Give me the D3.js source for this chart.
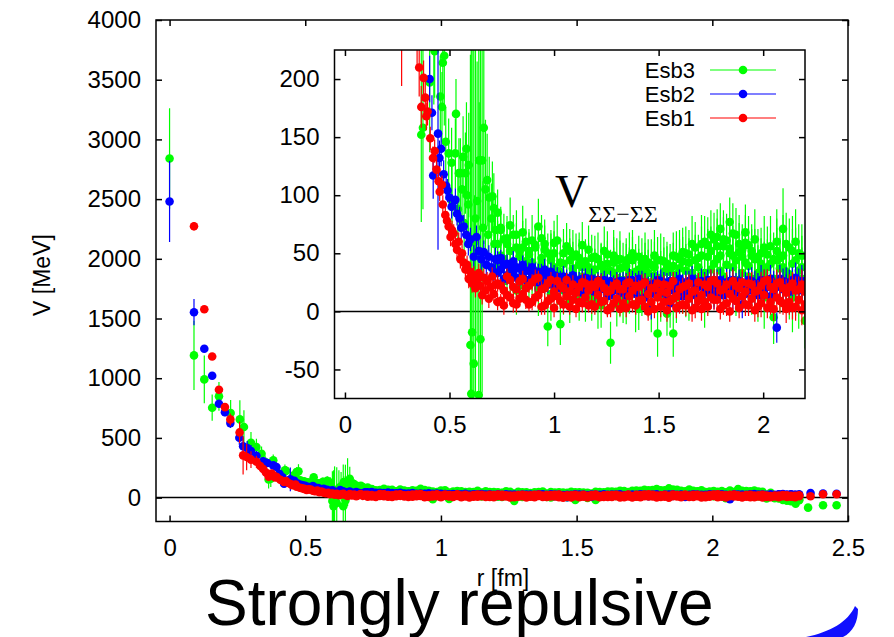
<!DOCTYPE html>
<html>
<head>
<meta charset="utf-8">
<script src="https://cdn.jsdelivr.net/npm/d3@7"></script>
<style>
  body { margin: 0; background: #fff; }
  svg { display: block; }
  text { font-family: "Liberation Sans", Arial, Helvetica, sans-serif; fill: #000; }
  .serif { font-family: "Liberation Serif", "Times New Roman", serif; }
</style>
</head>
<body>
<div id="chart"></div>
<script>
// ---- data ----
// short range points, [r (fm), V (MeV), error]
const esb1_near = [
  [0.09, 2273, 35], [0.128, 1578, 15], [0.157, 1182, 20], [0.182, 904, 30], [0.204, 758, 30],
  [0.224, 655, 50], [0.258, 546, 90], [0.271, 354, 160], [0.284, 340, 110], [0.3, 318, 70],
  [0.32, 300, 50], [0.334, 265, 40], [0.345, 240, 30], [0.355, 210, 25], [0.365, 176, 18],
  [0.376, 201, 15], [0.384, 184, 15], [0.389, 168, 12], [0.395, 172, 12], [0.408, 149, 10],
  [0.421, 132, 10], [0.429, 138, 10], [0.438, 122, 10], [0.448, 112, 10], [0.453, 103, 8],
  [0.464, 109, 8], [0.468, 92, 8], [0.48, 83, 8], [0.488, 78, 8], [0.496, 73, 8],
  [0.505, 64, 8], [0.512, 70, 8], [0.52, 67, 8], [0.528, 58, 8], [0.536, 53, 8],
  [0.544, 60, 8], [0.552, 45, 8], [0.56, 50, 8], [0.568, 42, 8], [0.576, 36, 8],
  [0.584, 40, 8], [0.592, 28, 8], [0.6, 34, 8], [0.608, 24, 8], [0.616, 31, 8],
  [0.624, 20, 8], [0.632, 27, 8], [0.64, 33, 8], [0.648, 22, 8], [0.656, 14, 8],
  [0.664, 29, 8], [0.672, 18, 8], [0.68, 26, 8], [0.688, 11, 8], [0.696, 21, 8],
  [0.704, 30, 8], [0.712, 15, 8], [0.72, 23, 8]
];
const esb2_near = [
  [0, 2480, 340], [0.09, 1553, 110], [0.128, 1247, 30], [0.157, 1021, 25], [0.182, 786, 30],
  [0.204, 716, 35], [0.224, 624, 40], [0.257, 502, 60], [0.271, 430, 70], [0.286, 415, 60],
  [0.3, 390, 50], [0.32, 350, 40], [0.345, 305, 35], [0.36, 290, 30], [0.382, 270, 25],
  [0.394, 256, 25], [0.405, 200, 20], [0.416, 171, 15], [0.422, 117, 20], [0.445, 153, 100],
  [0.452, 132, 15], [0.46, 140, 15], [0.472, 118, 12], [0.484, 108, 12], [0.491, 104, 10],
  [0.5, 98, 10], [0.51, 90, 10], [0.528, 96, 10], [0.536, 84, 10], [0.548, 80, 10],
  [0.556, 72, 10], [0.568, 73, 10], [0.58, 66, 10], [0.59, 58, 10], [0.6, 62, 10],
  [0.616, 47, 10], [0.629, 64, 10], [0.64, 52, 10], [0.652, 45, 10], [0.664, 51, 10],
  [0.676, 40, 10], [0.688, 47, 10], [0.7, 38, 10], [0.712, 34, 10], [0.72, 45, 10]
];
const esb3_near = [
  [0, 2840, 420], [0.09, 1191, 290], [0.128, 990, 200], [0.157, 753, 110], [0.182, 848, 120],
  [0.225, 708, 110], [0.259, 655, 160], [0.274, 591, 140], [0.3, 460, 90], [0.32, 423, 70],
  [0.339, 368, 60], [0.352, 300, 50], [0.365, 152, 75], [0.373, 158, 70], [0.382, 312, 50],
  [0.405, 197, 60], [0.425, 228, 50], [0.429, 224, 40], [0.456, 185, 35], [0.464, 176, 30],
  [0.468, 214, 40], [0.475, 220, 60], [0.482, 146, 30], [0.496, 136, 30], [0.51, 128, 30],
  [0.512, 95, 30], [0.528, 136, 30], [0.531, 170, 30], [0.54, 88, 30], [0.545, 119, 30],
  [0.552, 119, 30], [0.56, 105, 30], [0.565, 133, 35], [0.57, 76, 30], [0.576, 119, 35],
  [0.581, 140, 40], [0.584, 100, 40], [0.59, 92, 35], [0.592, 126, 45], [0.6, -29, 250],
  [0.604, -71, 300], [0.608, -18, 280], [0.616, -45, 300], [0.62, 60, 40], [0.624, 80, 150],
  [0.632, 95, 120], [0.64, -72, 350], [0.642, 130, 50], [0.648, -24, 300], [0.656, 130, 200],
  [0.66, 72, 40], [0.664, 158, 100], [0.672, 105, 60], [0.68, 113, 40], [0.685, 66, 30],
  [0.69, 98, 35], [0.7, 80, 30], [0.705, 99, 30], [0.712, 89, 30], [0.715, 58, 28],
  [0.72, 70, 28]
];

// medium / long range: shared r grid, several measurements per r
const r_band = [
  0.73, 0.745, 0.76, 0.775, 0.79, 0.805, 0.82, 0.835, 0.85, 0.865,
  0.88, 0.895, 0.91, 0.925, 0.94, 0.955, 0.97, 0.985, 1.0, 1.015,
  1.03, 1.045, 1.06, 1.075, 1.09, 1.105, 1.12, 1.135, 1.15, 1.165,
  1.18, 1.195, 1.21, 1.225, 1.24, 1.255, 1.27, 1.285, 1.3, 1.315,
  1.33, 1.345, 1.36, 1.375, 1.39, 1.405, 1.42, 1.435, 1.45, 1.465,
  1.48, 1.495, 1.51, 1.525, 1.54, 1.555, 1.57, 1.585, 1.6, 1.615,
  1.63, 1.645, 1.66, 1.675, 1.69, 1.705, 1.72, 1.735, 1.75, 1.765,
  1.78, 1.795, 1.81, 1.825, 1.84, 1.855, 1.87, 1.885, 1.9, 1.915,
  1.93, 1.945, 1.96, 1.975, 1.99, 2.005, 2.02, 2.035, 2.05, 2.065,
  2.08, 2.095, 2.11, 2.125, 2.14, 2.155, 2.17, 2.185, 2.2, 2.215,
  2.23, 2.245, 2.26, 2.275, 2.29, 2.305, 2.32
];
const esb1_band = [
  24, 9, 18, 30, 12, 21, 6, 26, 15, 10,
  22, 8, 28, 14, 19, 5, 24, 11, 17, 26,
  9, 20, 13, 4, 23, 16, 8, 25, 12, 18,
  6, 21, 14, 24, 9, 17, 3, 22, 11, 19,
  7, 24, 13, 18, 5, 21, 10, 25, 15, 8,
  20, 12, 4, 23, 16, 9, 26, 13, 19, 6,
  22, 11, 17, 3, 25, 14, 8, 21, 12, 27,
  10, 18, 5, 23, 15, 26, 9, 20, 13, 6,
  24, 11, 17, 4, 22, 14, 27, 8, 19, 12,
  25, 7, 16, 21, 3, 18, 10, 23, 6, 14,
  9, 17, 12, 20, 8, 15, 11
];
const esb1_band2 = [
  8, 22, 5, 14, 27, 7, 19, 11, 28, 20,
  6, 25, 12, 29, 4, 20, 9, 27, 3, 13,
  22, 6, 27, 17, 10, 2, 21, 7, 24, 5,
  23, 4, 26, 8, 20, 1, 18, 7, 24, 2,
  19, 3, 25, 6, 22, 9, 23, 4, 0, 20,
  2, 24, 17, 8, 1, 22, 11, 3, 5, 21,
  5, 24, 1, 18, 9, 2, 23, 4, 26, 10,
  24, 2, 19, 7, 0, 11, 22, 3, 25, 17,
  5, 23, 1, 18, 7, 26, 3, 21, 2, 24,
  9, 20, 2, 8, 24, 4, 19, 1, 17, 3,
  18, 4, 21, 6, 16, 3, 19
];
const esb1_band_err = [
  7, 6, 8, 7, 6, 8, 7, 6, 7, 8,
  6, 7, 8, 6, 7, 8, 6, 7, 8, 7,
  7, 8, 6, 7, 8, 7, 6, 8, 7, 6,
  8, 7, 6, 8, 7, 6, 8, 7, 8, 6,
  7, 8, 9, 7, 8, 6, 9, 7, 8, 9,
  8, 7, 9, 8, 10, 7, 8, 9, 7, 8,
  9, 8, 10, 9, 8, 10, 9, 8, 10, 9,
  10, 9, 8, 11, 9, 10, 8, 9, 11, 10,
  9, 11, 10, 9, 12, 10, 9, 11, 10, 12,
  11, 10, 12, 11, 10, 12, 11, 13, 12, 11,
  12, 13, 11, 12, 13, 12, 14
];
const esb2_band = [
  44, 36, 40, 31, 38, 34, 29, 37, 33, 27,
  35, 30, 26, 34, 33, 24, 31, 28, 22, 30,
  27, 21, 29, 24, 18, 26, 23, 28, 20, 25,
  22, 17, 27, 24, 19, 25, 14, 23, 21, 26,
  18, 24, 20, 27, 15, 22, 25, 12, 21, 3,
  24, 19, 26, 16, 22, 7, 25, 20, 17, 23,
  19, 26, 15, 22, 24, 11, 20, 27, 18, 23,
  25, 16, 22, 19, 26, 13, 24, 21, 6, 23,
  20, 26, 17, 23, 15, 25, 21, 28, 18, -14,
  22, 26, 19, 24, 27, 21, 25, 23, 20, 27,
  24, 28, 22, 26, 25, 23, 27
];
const esb2_band2 = [
  33, 46, 28, 41, 30, 43, 38, 26, 40, 35,
  27, 38, 33, 25, 29, 36, 23, 34, 31, 21,
  20, 30, 17, 26, 31, 19, 27, 16, 29, 22,
  28, 24, 15, 20, 27, 13, 26, 18, 25, 16,
  26, 14, 27, 19, 24, 28, 11, 25, 17, 23,
  15, 27, 21, 25, 12, 26, 18, 24, 28, 13,
  25, 17, 28, 14, 21, 26, 24, 16, 25, 12,
  18, 27, 14, 25, 21, 27, 16, 26, 22, 15,
  27, 18, 24, 14, 27, 19, 26, 13, 24, 21,
  28, 19, 25, 17, 22, 29, 18, 26, 24, 21,
  20, 25, 29, 21, 27, 24, 22
];
const esb2_band_err = [
  8, 7, 9, 8, 7, 9, 8, 7, 8, 9,
  7, 8, 9, 7, 8, 9, 7, 8, 9, 8,
  8, 9, 7, 8, 9, 8, 7, 9, 8, 7,
  9, 8, 7, 9, 8, 7, 9, 8, 9, 7,
  8, 9, 10, 8, 9, 7, 10, 8, 9, 10,
  9, 8, 10, 9, 11, 8, 9, 10, 8, 9,
  10, 9, 11, 10, 9, 11, 10, 9, 11, 10,
  11, 10, 9, 12, 10, 11, 9, 10, 12, 11,
  10, 12, 11, 10, 13, 11, 10, 12, 11, 13,
  12, 11, 13, 12, 11, 13, 12, 14, 13, 12,
  13, 14, 12, 13, 14, 13, 15
];
const esb3_band = [
  85, 48, 62, 30, 74, 41, 55, 22, 68, 37,
  52, 61, 28, 73, 40, 58, -13, 47, 59, 35,
  -11, 50, 22, 44, 31, 49, 14, 38, 26, 53,
  12, 36, 45, 5, 29, 41, -27, 33, 44, 19,
  38, 8, 46, 25, 34, 2, 42, 28, 15, 40,
  31, -19, 44, 22, 37, 10, -19, 47, 26, 51,
  18, 42, 33, 55, 24, 48, 8, 57, 36, 62,
  45, 71, 30, 61, 50, 38, 66, 27, 53, 42,
  57, 20, 45, 33, 50, 12, 38, 56, -5, 44,
  25, 71, 34, 18, 52, 44, 10, 28, -8, 20,
  -5, 15, -20, 8, -30, 5, -15
];
const esb3_band2 = [
  40, 70, 26, 58, 35, 66, 18, 52, 31, 60,
  24, 36, 55, 20, 63, 32, 50, 15, 38, 61,
  42, 18, 56, 9, 47, 25, 40, 57, 10, 33,
  46, 21, 8, 39, 52, 16, 35, 48, 6, 37,
  11, 44, 20, 50, 6, 36, 17, 45, 33, 4,
  48, 27, 14, 43, -2, 34, 39, 12, 45, 19,
  50, 13, 58, 28, 46, 31, 60, 22, 66, 27,
  64, 35, 56, 22, 77, 48, 19, 58, 33, 68,
  30, 48, 62, 15, 36, 55, 24, 41, 28, 52,
  46, 38, 58, 32, 12, 60, 35, 48, 22, 40,
  20, -8, 10, -25, 12, -12, 6
];
const esb3_band3 = [
  58, 72, 45, 63, 52, 38, 66, 47, 55, 43,
  49, 42, 57, 35, 46, 53, 31, 44, 50, 27,
  34, 41, 29, 52, 37, 21, 46, 30, 43, 38,
  31, 47, 26, 40, 35, 49, 24, 42, 29, 45,
  27, 39, 33, 44, 21, 47, 30, 36, 42, 25,
  38, 44, 29, 34, 41, 26, 48, 32, 37, 43,
  35, 49, 27, 44, 38, 58, 33, 47, 52, 41,
  56, 48, 62, 40, 54, 67, 44, 51, 47, 59,
  39, 52, 28, 47, 41, 33, 49, 26, 45, 60,
  37, 48, 29, 55, 41, 24, 50, 38, 18, 33,
  10, 2, -10, 18, -5, 0, -22
];
const esb3_band_err = [
  20, 18, 22, 19, 24, 17, 21, 18, 23, 20,
  19, 22, 18, 24, 20, 21, 17, 23, 19, 22,
  18, 21, 20, 19, 23, 18, 22, 20, 19, 21,
  20, 18, 23, 19, 21, 20, 18, 22, 19, 24,
  21, 19, 22, 20, 24, 18, 21, 23, 20, 22,
  22, 20, 23, 21, 19, 24, 20, 22, 25, 21,
  23, 21, 24, 22, 20, 25, 22, 24, 21, 23,
  24, 22, 25, 23, 21, 26, 23, 25, 22, 24,
  25, 23, 26, 24, 22, 27, 24, 26, 23, 28,
  26, 35, 27, 25, 30, 28, 25, 27, 24, 29,
  28, 30, 32, 29, 31, 33, 30
];

// last few points (only inside the big plot)
const esb1_tail = [[2.362, 11, 10], [2.408, 28, 12], [2.458, 28, 12]];
const esb2_tail = [[2.362, 38, 12], [2.408, 35, 14], [2.458, 33, 14]];
const esb3_tail = [[2.307, -50, 22], [2.353, -84, 20], [2.408, -64, 20], [2.458, -64, 20]];

const series_names = ["Esb3", "Esb2", "Esb1"];
const series_colors = ["#00ff00", "#0000ff", "#ff0000"];

const main_x_ticks = [0, 0.5, 1, 1.5, 2, 2.5];
const main_y_ticks = [0, 500, 1000, 1500, 2000, 2500, 3000, 3500, 4000];
const inset_x_ticks = [0, 0.5, 1, 1.5, 2];
const inset_y_ticks = [-50, 0, 50, 100, 150, 200];

// ---- build point lists ----
function buildSeries(near, bands, band_err, tail) {
  const pts = near.slice();
  r_band.forEach((r, i) => {
    const e = band_err[i] || 0;
    for (const band of bands) {
      if (band[i] !== undefined) pts.push([r, band[i], e]);
    }
  });
  return pts.concat(tail);
}

const all_series = [
  buildSeries(esb3_near, [esb3_band, esb3_band2, esb3_band3], esb3_band_err, esb3_tail),
  buildSeries(esb2_near, [esb2_band, esb2_band2], esb2_band_err, esb2_tail),
  buildSeries(esb1_near, [esb1_band, esb1_band2], esb1_band_err, esb1_tail)
];

// ---- drawing ----
const width = 894, height = 637;
const svg = d3.select("#chart").append("svg")
  .attr("width", width).attr("height", height);
svg.append("rect").attr("width", width).attr("height", height).attr("fill", "#fff");

const main_box = { left: 156, right: 848, top: 20, bottom: 521.5 };
const inset_box = { left: 334.5, right: 805, top: 50, bottom: 398.5 };
const dot_r = 4.3;

function drawSeries(g, pts, color, x, y) {
  const sg = g.append("g");
  sg.selectAll("line").data(pts).join("line")
    .attr("x1", d => x(d[0])).attr("x2", d => x(d[0]))
    .attr("y1", d => y(d[1] - d[2])).attr("y2", d => y(d[1] + d[2]))
    .attr("stroke", color).attr("stroke-width", 1.2);
  sg.selectAll("circle").data(pts).join("circle")
    .attr("cx", d => x(d[0])).attr("cy", d => y(d[1]))
    .attr("r", dot_r).attr("fill", color);
}

function drawPanel(box, x_domain, y_domain, x_ticks, y_ticks, id) {
  const x = d3.scaleLinear().domain(x_domain).range([box.left, box.right]);
  const y = d3.scaleLinear().domain(y_domain).range([box.bottom, box.top]);
  const g = svg.append("g").attr("id", id);

  g.append("rect")
    .attr("x", box.left).attr("y", box.top)
    .attr("width", box.right - box.left).attr("height", box.bottom - box.top)
    .attr("fill", "#fff");

  g.append("clipPath").attr("id", id + "_clip").append("rect")
    .attr("x", box.left).attr("y", box.top)
    .attr("width", box.right - box.left).attr("height", box.bottom - box.top);

  // zero line
  g.append("line")
    .attr("x1", box.left).attr("x2", box.right)
    .attr("y1", y(0)).attr("y2", y(0))
    .attr("stroke", "#000").attr("stroke-width", 1.5);

  const data_g = g.append("g").attr("clip-path", `url(#${id}_clip)`);
  all_series.forEach((pts, i) => drawSeries(data_g, pts, series_colors[i], x, y));

  const fmt = (d) => String(d);
  const axes = [
    [d3.axisBottom(x).tickValues(x_ticks).tickSize(-6).tickPadding(17).tickFormat(fmt), `translate(0,${box.bottom})`],
    [d3.axisTop(x).tickValues(x_ticks).tickSize(-6).tickFormat(""), `translate(0,${box.top})`],
    [d3.axisLeft(y).tickValues(y_ticks).tickSize(-6).tickPadding(15).tickFormat(fmt), `translate(${box.left},0)`],
    [d3.axisRight(y).tickValues(y_ticks).tickSize(-6).tickFormat(""), `translate(${box.right},0)`]
  ];
  for (const [axis, tr] of axes) {
    const a = g.append("g").attr("transform", tr).call(axis);
    a.select(".domain").remove();
    a.selectAll("line").attr("stroke", "#000").attr("stroke-width", 1.5);
    a.selectAll("text").attr("font-size", 24).attr("fill", "#000");
  }

  g.append("rect")
    .attr("x", box.left).attr("y", box.top)
    .attr("width", box.right - box.left).attr("height", box.bottom - box.top)
    .attr("fill", "none").attr("stroke", "#000").attr("stroke-width", 1.5);

  return { x, y, g };
}

drawPanel(main_box, [-0.05, 2.5], [-200, 4000], main_x_ticks, main_y_ticks, "main");
const inset = drawPanel(inset_box, [-0.05, 2.2], [-75, 225], inset_x_ticks, inset_y_ticks, "inset");

// legend
const legend = inset.g.append("g");
series_names.forEach((name, i) => {
  const ly = 70 + i * 24;
  legend.append("text")
    .attr("x", 695).attr("y", ly + 8)
    .attr("text-anchor", "end").attr("font-size", 22)
    .text(name);
  legend.append("line")
    .attr("x1", 710).attr("x2", 776).attr("y1", ly).attr("y2", ly)
    .attr("stroke", series_colors[i]).attr("stroke-width", 1.2);
  legend.append("circle")
    .attr("cx", 743).attr("cy", ly).attr("r", dot_r).attr("fill", series_colors[i]);
});

// potential name inside the inset
const vlab = svg.append("text").attr("class", "serif").attr("x", 555).attr("y", 207);
vlab.append("tspan").attr("font-size", 46).text("V");
vlab.append("tspan").attr("font-size", 24).attr("dy", 15).text("ΣΣ−ΣΣ");

// axis titles
svg.append("text")
  .attr("transform", "translate(50,275) rotate(-90)")
  .attr("text-anchor", "middle").attr("font-size", 23)
  .text("V [MeV]");

svg.append("text")
  .attr("x", 503).attr("y", 586)
  .attr("text-anchor", "middle").attr("font-size", 23)
  .text("r [fm]");

// slide caption
svg.append("text")
  .attr("x", 205).attr("y", 625)
  .attr("font-size", 64)
  .text("Strongly repulsive");

// blue brush stroke in the corner of the slide
svg.append("path")
  .attr("d", "M 806 637 C 830 632, 848 622, 855 606 L 858 609 C 858 622, 853 632, 843 637 Z")
  .attr("fill", "#1010ff");
</script>
</body>
</html>
